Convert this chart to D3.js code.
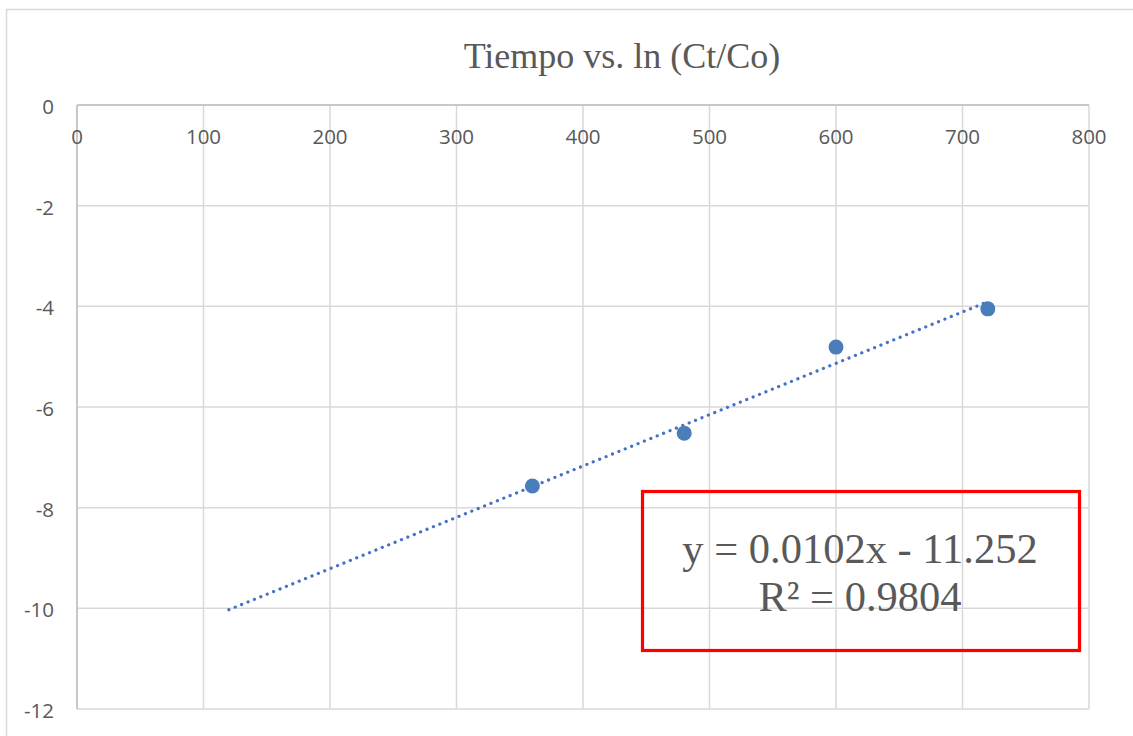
<!DOCTYPE html>
<html>
<head>
<meta charset="utf-8">
<script src="https://cdn.jsdelivr.net/npm/d3@7"></script>
<style>
  html, body { margin: 0; padding: 0; background: #ffffff; }
  svg { display: block; }
</style>
</head>
<body>
<svg id="chart" width="1133" height="736"></svg>
<script>
// ---- data ----
const chartTitle = "Tiempo vs. ln (Ct/Co)";
const timeValues = [360, 480, 600, 720];
const lnValues = [-7.57, -6.52, -4.81, -4.05];
const xTicks = [0, 100, 200, 300, 400, 500, 600, 700, 800];
const yTicks = [0, -2, -4, -6, -8, -10, -12];
const trendSlope = 0.0102;
const trendIntercept = -11.252;
const trendRange = [120, 720];
const equationLines = ["y = 0.0102x - 11.252", "R² = 0.9804"];

// ---- layout ----
const svg = d3.select("#chart");
const plot = { left: 77, right: 1089, top: 105, bottom: 709 };

const x = d3.scaleLinear().domain([0, 800]).range([plot.left, plot.right]);
const y = d3.scaleLinear().domain([-12, 0]).range([plot.bottom, plot.top]);

// outer chart border
svg.append("rect")
  .attr("x", 6.5).attr("y", 9.5)
  .attr("width", 1140).attr("height", 760)
  .attr("fill", "#ffffff")
  .attr("stroke", "#d9d9d9").attr("stroke-width", 1.5);

// title
svg.append("text")
  .attr("x", 622).attr("y", 68)
  .attr("text-anchor", "middle")
  .attr("font-family", "'Liberation Serif', 'Times New Roman', serif")
  .attr("font-size", 36)
  .attr("fill", "#595959")
  .text(chartTitle);

// gridlines
const g = svg.append("g");
g.selectAll(".vgrid").data(xTicks).enter().append("line")
  .attr("x1", d => x(d)).attr("x2", d => x(d))
  .attr("y1", plot.top).attr("y2", plot.bottom)
  .attr("stroke", "#d9d9d9").attr("stroke-width", 1.5);
g.selectAll(".hgrid").data(yTicks).enter().append("line")
  .attr("x1", plot.left).attr("x2", plot.right)
  .attr("y1", d => y(d)).attr("y2", d => y(d))
  .attr("stroke", "#d9d9d9").attr("stroke-width", 1.5);

// axis lines (x axis at y=0 on top, y axis at x=0)
svg.append("line")
  .attr("x1", plot.left).attr("x2", plot.right)
  .attr("y1", y(0)).attr("y2", y(0))
  .attr("stroke", "#bfbfbf").attr("stroke-width", 1.5);
svg.append("line")
  .attr("x1", x(0)).attr("x2", x(0))
  .attr("y1", plot.top).attr("y2", plot.bottom)
  .attr("stroke", "#bfbfbf").attr("stroke-width", 1.5);

// tick labels
const tickFont = "'Open Sans', 'Liberation Sans', sans-serif";
svg.selectAll(".xlab").data(xTicks).enter().append("text")
  .attr("x", d => x(d)).attr("y", 136)
  .attr("text-anchor", "middle")
  .attr("dominant-baseline", "central")
  .attr("font-family", tickFont).attr("font-size", 20.5)
  .attr("fill", "#595959")
  .text(d => d3.format("d")(d));
svg.selectAll(".ylab").data(yTicks).enter().append("text")
  .attr("x", 54).attr("y", d => y(d) + 1)
  .attr("text-anchor", "end")
  .attr("dominant-baseline", "central")
  .attr("font-family", tickFont).attr("font-size", 20.5)
  .attr("fill", "#595959")
  .text(d => d3.format("d")(d).replace("−", "-"));

// trendline (dotted)
const trendPts = trendRange.map(t => [t, trendSlope * t + trendIntercept]);
svg.append("path")
  .datum(trendPts)
  .attr("d", d3.line().x(d => x(d[0])).y(d => y(d[1])))
  .attr("fill", "none")
  .attr("stroke", "#4472c4")
  .attr("stroke-width", 3.2)
  .attr("stroke-linecap", "round")
  .attr("stroke-dasharray", "0.1 6.8");

// markers
svg.selectAll(".pt").data(timeValues).enter().append("circle")
  .attr("cx", d => x(d))
  .attr("cy", (d, i) => y(lnValues[i]))
  .attr("r", 7.5)
  .attr("fill", "#4a7ebb");

// equation box
svg.append("rect")
  .attr("x", 642.5).attr("y", 491.5)
  .attr("width", 437).attr("height", 159)
  .attr("fill", "none")
  .attr("stroke", "#ff0000").attr("stroke-width", 3.2);

svg.selectAll(".eq").data(equationLines).enter().append("text")
  .attr("x", 860)
  .attr("y", (d, i) => 563 + i * 48)
  .attr("text-anchor", "middle")
  .attr("font-family", "'Liberation Serif', 'Times New Roman', serif")
  .attr("font-size", 42.5)
  .attr("fill", "#595959")
  .text(d => d);
</script>
</body>
</html>
